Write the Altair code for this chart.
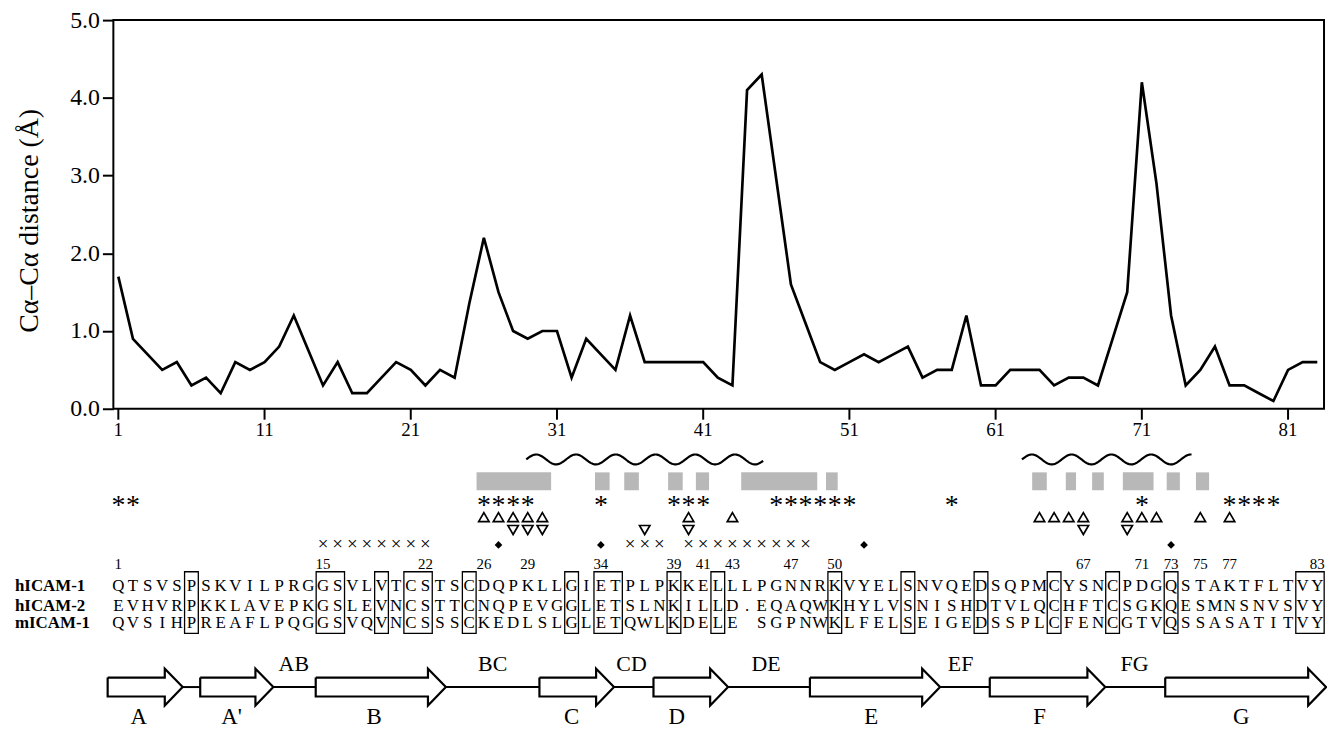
import altair as alt
import numpy as np
import pandas as pd

# ------------------------------------------------------------------ data
residue = list(range(1, 84))
distance = [1.7, 0.9, 0.7, 0.5, 0.6, 0.3, 0.4, 0.2, 0.6, 0.5,
            0.6, 0.8, 1.2, 0.75, 0.3, 0.6, 0.2, 0.2, 0.4, 0.6,
            0.5, 0.3, 0.5, 0.4, 1.35, 2.2, 1.5, 1.0, 0.9, 1.0,
            1.0, 0.4, 0.9, 0.7, 0.5, 1.2, 0.6, 0.6, 0.6, 0.6,
            0.6, 0.4, 0.3, 4.1, 4.3, 2.95, 1.6, 1.1, 0.6, 0.5,
            0.6, 0.7, 0.6, 0.7, 0.8, 0.4, 0.5, 0.5, 1.2, 0.3,
            0.3, 0.5, 0.5, 0.5, 0.3, 0.4, 0.4, 0.3, 0.9, 1.5,
            4.2, 2.9, 1.2, 0.3, 0.5, 0.8, 0.3, 0.3, 0.2, 0.1,
            0.5, 0.6, 0.6]
x_ticks = [1, 11, 21, 31, 41, 51, 61, 71, 81]
y_ticks = [0, 1, 2, 3, 4, 5]

seq_names = ["hICAM-1", "hICAM-2", "mICAM-1"]
seq_h1 = "QTSVSPSKVILPRGGSVLVTCSTSCDQPKLLGIETPLPKKELLLPGNNRKVYELSNVQEDSQPMCYSNCPDGQSTAKTFLTVY"
seq_h2 = "EVHVRPKKLAVEPKGSLEVNCSTTCNQPEVGGLETSLNKILLD.EQAQWKHYLVSNISHDTVLQCHFTCSGKQESMNSNVSVY"
seq_m1 = "QVSIHPREAFLPQGGSVQVNCSSSCKEDLSLGLETQWLKDELE SGPNWKLFELSEIGEDSSPLCFENCGTVQSSASATITVY"
seq_numbers = [1, 15, 22, 26, 29, 34, 39, 41, 43, 47, 50, 67, 71, 73, 75, 77, 83]

box_start = [6, 15, 19, 21, 25, 32, 34, 39, 42, 50, 55, 60, 65, 69, 73, 82]
box_end = [6, 16, 19, 22, 25, 32, 35, 39, 42, 50, 55, 60, 65, 69, 73, 83]

star_res = [1, 2, 26, 27, 28, 29, 34, 39, 40, 41, 46, 47, 48, 49, 50, 51, 58, 71, 77, 78, 79, 80]
up_res = [26, 27, 28, 29, 30, 40, 43, 64, 65, 66, 67, 70, 71, 72, 75, 77]
down_res = [28, 29, 30, 37, 40, 67, 70]
cross_res = [15, 16, 17, 18, 19, 20, 21, 22, 36, 37, 38, 40, 41, 42, 43, 44, 45, 46, 47, 48]
diamond_res = [27, 34, 52, 73]

gray_start = [25.5, 33.6, 35.6, 38.6, 40.5, 43.6, 49.4, 63.5, 65.8, 67.6, 69.7, 72.7, 74.7]
gray_end = [30.6, 34.6, 36.6, 39.6, 41.4, 48.8, 50.2, 64.5, 66.5, 68.4, 71.8, 73.6, 75.6]

helix_start = [28.9, 62.8]
helix_end = [45.1, 74.4]

strand_names = ["A", "A'", "B", "C", "D", "E", "F", "G"]
strand_start = [0.27, 6.6, 14.5, 29.8, 37.6, 48.3, 60.6, 72.6]
strand_end = [5.4, 11.6, 23.4, 34.9, 42.7, 57.2, 68.5, 83.6]
strand_label_pos = [2.4, 8.75, 18.5, 32.0, 39.2, 52.5, 64.0, 77.8]
loop_names = ["AB", "BC", "CD", "DE", "EF", "FG"]
loop_label_pos = [13.0, 26.6, 36.1, 45.3, 58.6, 70.5]

# ------------------------------------------------------------------ layout / style
SERIF = "Liberation Serif"
W, H = 1218, 710          # plot area
PLOT_H = 391              # height of the distance panel inside the plot area
PX_PER_RES = 14.71
VMIN = 5 - H / PLOT_H * 5
ROW = {"tick_top": 391, "tick_bot": 402, "tick_lab": 412,
       "wave": 442, "gray_top": 455, "gray_bot": 473, "star": 489, "up": 500,
       "down": 513, "cross": 527, "num": 547, "h1": 569, "h2": 589, "m1": 607,
       "box_top": 555, "box_bot": 617, "loop": 648, "arrow": 671, "strand": 701}
BODY_HALF, HEAD_HALF, HEAD_LEN = 9.5, 18.5, 18 / PX_PER_RES

xs = alt.Scale(domain=[0.66, 83.46], nice=False, zero=False)
ys_line = alt.Scale(domain=[VMIN, 5], nice=False, zero=False)
ys_row = alt.Scale(domain=[0, H], nice=False, zero=False, reverse=True)


def X(field="x"):
    return alt.X(f"{field}:Q", scale=xs, axis=None)


def Y(field="y"):
    return alt.Y(f"{field}:Q", scale=ys_row, axis=None)


# ------------------------------------------------------------------ tables
df_line = pd.DataFrame({"residue": residue, "distance": distance})
df_xtick = pd.DataFrame({"x": x_ticks, "y": ROW["tick_top"], "y2": ROW["tick_bot"]})
df_xlab = pd.DataFrame({"x": x_ticks, "y": ROW["tick_lab"], "t": [str(v) for v in x_ticks]})

df_gray = pd.DataFrame({"x": gray_start, "x2": gray_end,
                        "y": ROW["gray_top"], "y2": ROW["gray_bot"]})

wave_rows = []
for i, (s, e) in enumerate(zip(helix_start, helix_end)):
    xx = np.linspace(s, e, 240)
    phase = (xx - s) * PX_PER_RES / 40.0
    for k, (xv, pv) in enumerate(zip(xx, phase)):
        wave_rows.append({"x": xv, "y": ROW["wave"] - 5 * np.sin(2 * np.pi * pv), "h": i, "k": k})
df_wave = pd.DataFrame(wave_rows)

df_star = pd.DataFrame({"x": star_res, "y": ROW["star"], "t": "*"})
df_up = pd.DataFrame({"x": up_res, "y": ROW["up"]})
df_down = pd.DataFrame({"x": down_res, "y": ROW["down"]})
df_cross = pd.DataFrame({"x": cross_res, "y": ROW["cross"], "t": "×"})
df_diamond = pd.DataFrame({"x": diamond_res, "y": ROW["cross"] + 1})
df_num = pd.DataFrame({"x": seq_numbers, "y": ROW["num"], "t": [str(n) for n in seq_numbers]})

seq_rows = []
for name, seq, key in zip(seq_names, [seq_h1, seq_h2, seq_m1], ["h1", "h2", "m1"]):
    for i, ch in enumerate(seq):
        if ch != " ":
            seq_rows.append({"x": i + 1, "y": ROW[key], "t": ch})
df_seq = pd.DataFrame(seq_rows)
df_names = pd.DataFrame({"y": [ROW["h1"], ROW["h2"], ROW["m1"]], "t": seq_names})

df_box = pd.DataFrame({"x": [s - 0.47 for s in box_start], "x2": [e + 0.47 for e in box_end],
                       "y": ROW["box_top"], "y2": ROW["box_bot"]})

arrow_rows = []
for n, s, e in zip(strand_names, strand_start, strand_end):
    neck = e - HEAD_LEN
    c = ROW["arrow"]
    pts = [(s, c - BODY_HALF), (neck, c - BODY_HALF), (neck, c - HEAD_HALF), (e, c),
           (neck, c + HEAD_HALF), (neck, c + BODY_HALF), (s, c + BODY_HALF), (s, c - BODY_HALF)]
    for k, (xv, yv) in enumerate(pts):
        arrow_rows.append({"strand": n, "k": k, "x": xv, "y": yv})
df_arrow = pd.DataFrame(arrow_rows)
df_backbone = pd.DataFrame({"x": strand_end[:-1], "x2": strand_start[1:], "y": ROW["arrow"]})
df_strand_lab = pd.DataFrame({"x": strand_label_pos, "y": ROW["strand"], "t": strand_names})
df_loop_lab = pd.DataFrame({"x": loop_label_pos, "y": ROW["loop"], "t": loop_names})

# ------------------------------------------------------------------ layers
xticks = alt.Chart(df_xtick).mark_rule(color="black", strokeWidth=2).encode(
    x=X(), y=Y(), y2="y2:Q")
xlabs = alt.Chart(df_xlab).mark_text(font=SERIF, fontSize=19, color="black", baseline="middle").encode(
    x=X(), y=Y(), text="t:N")

gray = alt.Chart(df_gray).mark_rect(color="#b8b8b8").encode(
    x=X(), x2="x2:Q", y=Y(), y2="y2:Q")

wave = alt.Chart(df_wave).mark_line(color="black", strokeWidth=2.2).encode(
    x=X(), y=Y(), detail="h:N", order="k:Q")

stars = alt.Chart(df_star).mark_text(font=SERIF, fontSize=28, color="black", baseline="middle").encode(
    x=X(), y=Y(), text="t:N")

ups = alt.Chart(df_up).mark_point(shape="triangle-up", filled=False, color="black",
                                  strokeWidth=1.7, size=110, opacity=1).encode(x=X(), y=Y())
downs = alt.Chart(df_down).mark_point(shape="triangle-down", filled=False, color="black",
                                      strokeWidth=1.7, size=110, opacity=1).encode(x=X(), y=Y())
crosses = alt.Chart(df_cross).mark_text(font=SERIF, fontSize=19, color="black", baseline="middle").encode(
    x=X(), y=Y(), text="t:N")
diamonds = alt.Chart(df_diamond).mark_point(shape="diamond", filled=True, color="black",
                                            size=60, opacity=1).encode(x=X(), y=Y())

nums = alt.Chart(df_num).mark_text(font=SERIF, fontSize=15, color="black", baseline="middle").encode(
    x=X(), y=Y(), text="t:N")
boxes = alt.Chart(df_box).mark_rect(fill="transparent", stroke="black", strokeWidth=1.3).encode(
    x=X(), x2="x2:Q", y=Y(), y2="y2:Q")
seqs = alt.Chart(df_seq).mark_text(font=SERIF, fontSize=17, color="black", baseline="middle").encode(
    x=X(), y=Y(), text="t:N")
names = alt.Chart(df_names).mark_text(font=SERIF, fontSize=17, fontWeight="bold", color="black",
                                      baseline="middle", align="left").encode(
    x=alt.value(-99), y=Y(), text="t:N")

backbone = alt.Chart(df_backbone).mark_rule(color="black", strokeWidth=2).encode(
    x=X(), x2="x2:Q", y=Y())
arrows = alt.Chart(df_arrow).mark_line(color="black", strokeWidth=2.2, strokeJoin="miter").encode(
    x=X(), y=Y(), detail="strand:N", order="k:Q")
strand_labs = alt.Chart(df_strand_lab).mark_text(font=SERIF, fontSize=23, color="black", baseline="middle").encode(
    x=X(), y=Y(), text="t:N")
loop_labs = alt.Chart(df_loop_lab).mark_text(font=SERIF, fontSize=22, color="black", baseline="middle").encode(
    x=X(), y=Y(), text="t:N")

line = alt.Chart(df_line).mark_line(color="black", strokeWidth=2.7, strokeJoin="miter").encode(
    x=alt.X("residue:Q", scale=xs, axis=None),
    y=alt.Y("distance:Q", scale=ys_line,
            axis=alt.Axis(values=y_ticks, format=".1f", domain=False, grid=False,
                          tickSize=11, tickWidth=2, tickColor="black",
                          labelFont=SERIF, labelFontSize=24, labelColor="black", labelPadding=3,
                          title="Cα–Cα distance (Å)", titleFont=SERIF, titleFontSize=28,
                          titleFontWeight="normal", titleColor="black",
                          titleX=-84, titleY=PLOT_H / 2 + 6, titleAngle=270,
                          titleAlign="center", titleBaseline="middle")),
)

frame = alt.Chart(pd.DataFrame({"a": [0]})).mark_rect(
    fill="transparent", stroke="black", strokeWidth=2).encode(
    x=alt.value(0), x2=alt.value(W), y=alt.value(0), y2=alt.value(PLOT_H))

chart = alt.layer(
    xticks, xlabs, gray, wave, stars, ups, downs, crosses, diamonds, nums, boxes, seqs, names,
    backbone, arrows, strand_labs, loop_labs, line, frame
).resolve_scale(y="independent").properties(
    width=W, height=H,
    autosize=alt.AutoSizeParams(type="none"),
    padding={"left": 106, "top": 10, "right": 3, "bottom": 0},
).configure_view(strokeWidth=0)

chart.save("out.html", embed_options={"renderer": "svg", "actions": False})
